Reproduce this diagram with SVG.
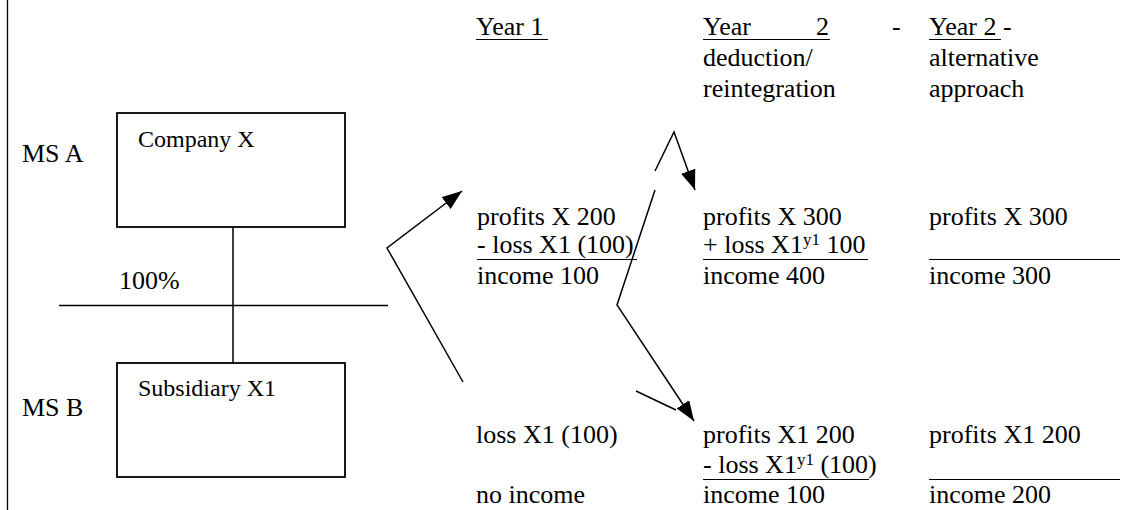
<svg xmlns="http://www.w3.org/2000/svg" width="1127" height="510" viewBox="0 0 1127 510">
<style>
text{font-family:"Liberation Serif","Times New Roman",serif;font-size:26px;fill:#000}
.sm{font-size:24px}
.sup{font-size:17px}
.ln{stroke:#000;stroke-width:1.5;fill:none}
.ul{stroke:#000;stroke-width:1.2}
.box{fill:#fff;stroke:#000;stroke-width:1.8}
</style>
<defs>
<marker id="ah" markerUnits="userSpaceOnUse" markerWidth="21" markerHeight="15" refX="20" refY="7.5" orient="auto">
<path d="M0,0 L20,7.5 L0,15 z" fill="#000"/>
</marker>
</defs>
<rect width="1127" height="510" fill="#fff"/>
<line x1="7.5" y1="0" x2="7.5" y2="510" stroke="#000" stroke-width="1.3"/>

<g id="connectors">
<line class="ln" x1="233" y1="227" x2="233" y2="363"/>
<line class="ln" x1="59" y1="305.5" x2="388" y2="305.5"/>
<polyline class="ln" points="463,382 387,248 462,191" marker-end="url(#ah)"/>
<polyline class="ln" points="655,190 617,305 694,421" marker-end="url(#ah)"/>
<polyline class="ln" points="655,171 674,132 695,190" marker-end="url(#ah)"/>
<line class="ln" x1="636" y1="391" x2="676" y2="410"/>
</g>

<g id="labels">
<text x="22" y="162">MS A</text>
<text x="22" y="416">MS B</text>
<text x="119" y="289">100%</text>
</g>

<g id="companyX">
<rect class="box" x="117" y="113" width="228" height="114"/>
<text class="sm" x="138" y="147">Company X</text>
</g>

<g id="subsidiaryX1">
<rect class="box" x="117" y="363" width="228" height="114"/>
<text class="sm" x="138" y="396">Subsidiary X1</text>
</g>

<g id="year1">
<text x="476" y="35">Year 1</text>
<line class="ul" x1="476" y1="39.5" x2="548" y2="39.5"/>
<text x="477" y="225">profits X 200</text>
<text x="477" y="253">- loss X1 (100)</text>
<line class="ul" x1="477" y1="259.5" x2="637" y2="259.5"/>
<text x="477" y="284">income 100</text>
<text x="476" y="443">loss X1 (100)</text>
<text x="476" y="503">no income</text>
</g>

<g id="year2deduction">
<text y="35"><tspan x="703">Year</tspan><tspan x="816">2</tspan><tspan x="892">-</tspan></text>
<line class="ul" x1="703" y1="39.5" x2="830" y2="39.5"/>
<text x="703" y="66">deduction/</text>
<text x="703" y="97">reintegration</text>
<text x="703" y="225">profits X 300</text>
<text x="703" y="253">+ loss X1<tspan class="sup" dy="-8">y1</tspan><tspan dy="8"> 100</tspan></text>
<line class="ul" x1="703" y1="259.5" x2="868" y2="259.5"/>
<text x="703" y="284">income 400</text>
<text x="703" y="443">profits X1 200</text>
<text x="703" y="473">- loss X1<tspan class="sup" dy="-8">y1</tspan><tspan dy="8"> (100)</tspan></text>
<line class="ul" x1="703" y1="479.5" x2="869" y2="479.5"/>
<text x="703" y="503">income 100</text>
</g>

<g id="year2alternative">
<text x="929" y="35">Year 2 -</text>
<line class="ul" x1="929" y1="39.5" x2="1001" y2="39.5"/>
<text x="929" y="66">alternative</text>
<text x="929" y="97">approach</text>
<text x="929" y="225">profits X 300</text>
<line class="ul" x1="929" y1="259.5" x2="1120" y2="259.5"/>
<text x="929" y="284">income 300</text>
<text x="929" y="443">profits X1 200</text>
<line class="ul" x1="929" y1="479.5" x2="1120" y2="479.5"/>
<text x="929" y="503">income 200</text>
</g>
</svg>
